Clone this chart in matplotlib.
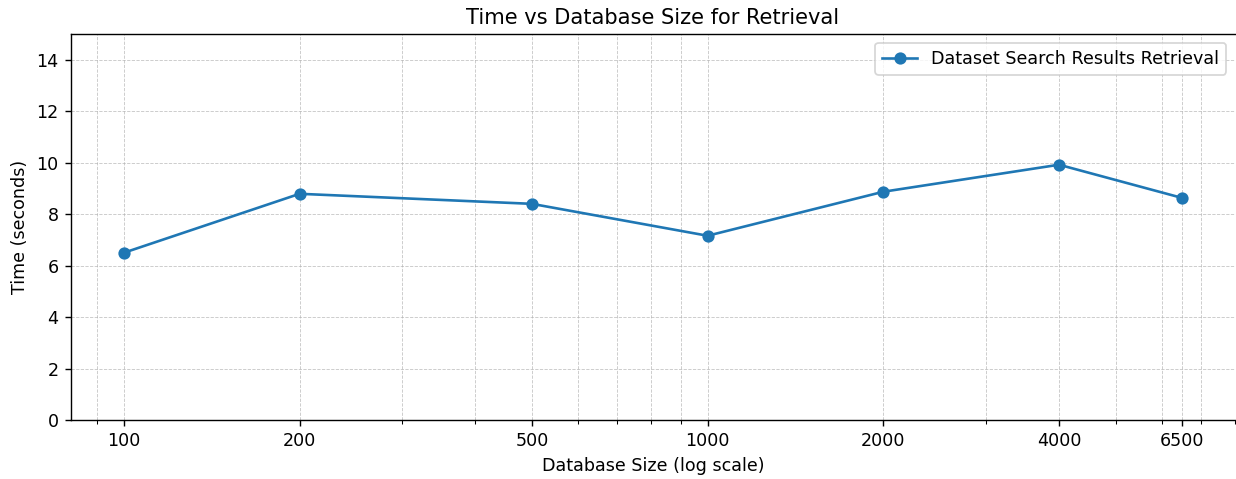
import matplotlib
matplotlib.use("Agg")
import matplotlib.pyplot as plt
from matplotlib.ticker import NullFormatter

db_sizes = [100, 200, 500, 1000, 2000, 4000, 6500] #database sizes
times = [6.50, 8.79, 8.40, 7.16, 8.87, 9.92, 8.63] #retrieval time in seconds
tick_labels = ["100", "200", "500", "1000", "2000", "4000", "6500"] #x tick labels

DPI = 126 #the reference looks saved at a higher dpi
fig = plt.figure(figsize=(1236/DPI, 479/DPI), dpi=DPI) #create the figure
ax = fig.add_axes([71/1236, 59/479, 1164/1236, 386/479]) #axis placement

ax.plot(db_sizes, times, marker="o", label="Dataset Search Results Retrieval") #plot the data
ax.set_xscale("log") #log scale on x
ax.set_xticks(db_sizes) #major ticks at the data points
ax.set_xticklabels(tick_labels) #set x tick labels
ax.xaxis.set_minor_formatter(NullFormatter()) #no minor labels
ax.set_ylim(0, 15) #y limits
ax.grid(True, which="both", linestyle="--", linewidth=0.5, alpha=0.7) #dashed grid
ax.spines["right"].set_visible(False) #right edge is cut off in the reference

ax.set_title("Time vs Database Size for Retrieval") #title
ax.set_xlabel("Database Size (log scale)") #x axis label
ax.set_ylabel("Time (seconds)") #y axis label
ax.legend(loc="upper right") #legend

plt.savefig("out.png", dpi=DPI) #save the figure
